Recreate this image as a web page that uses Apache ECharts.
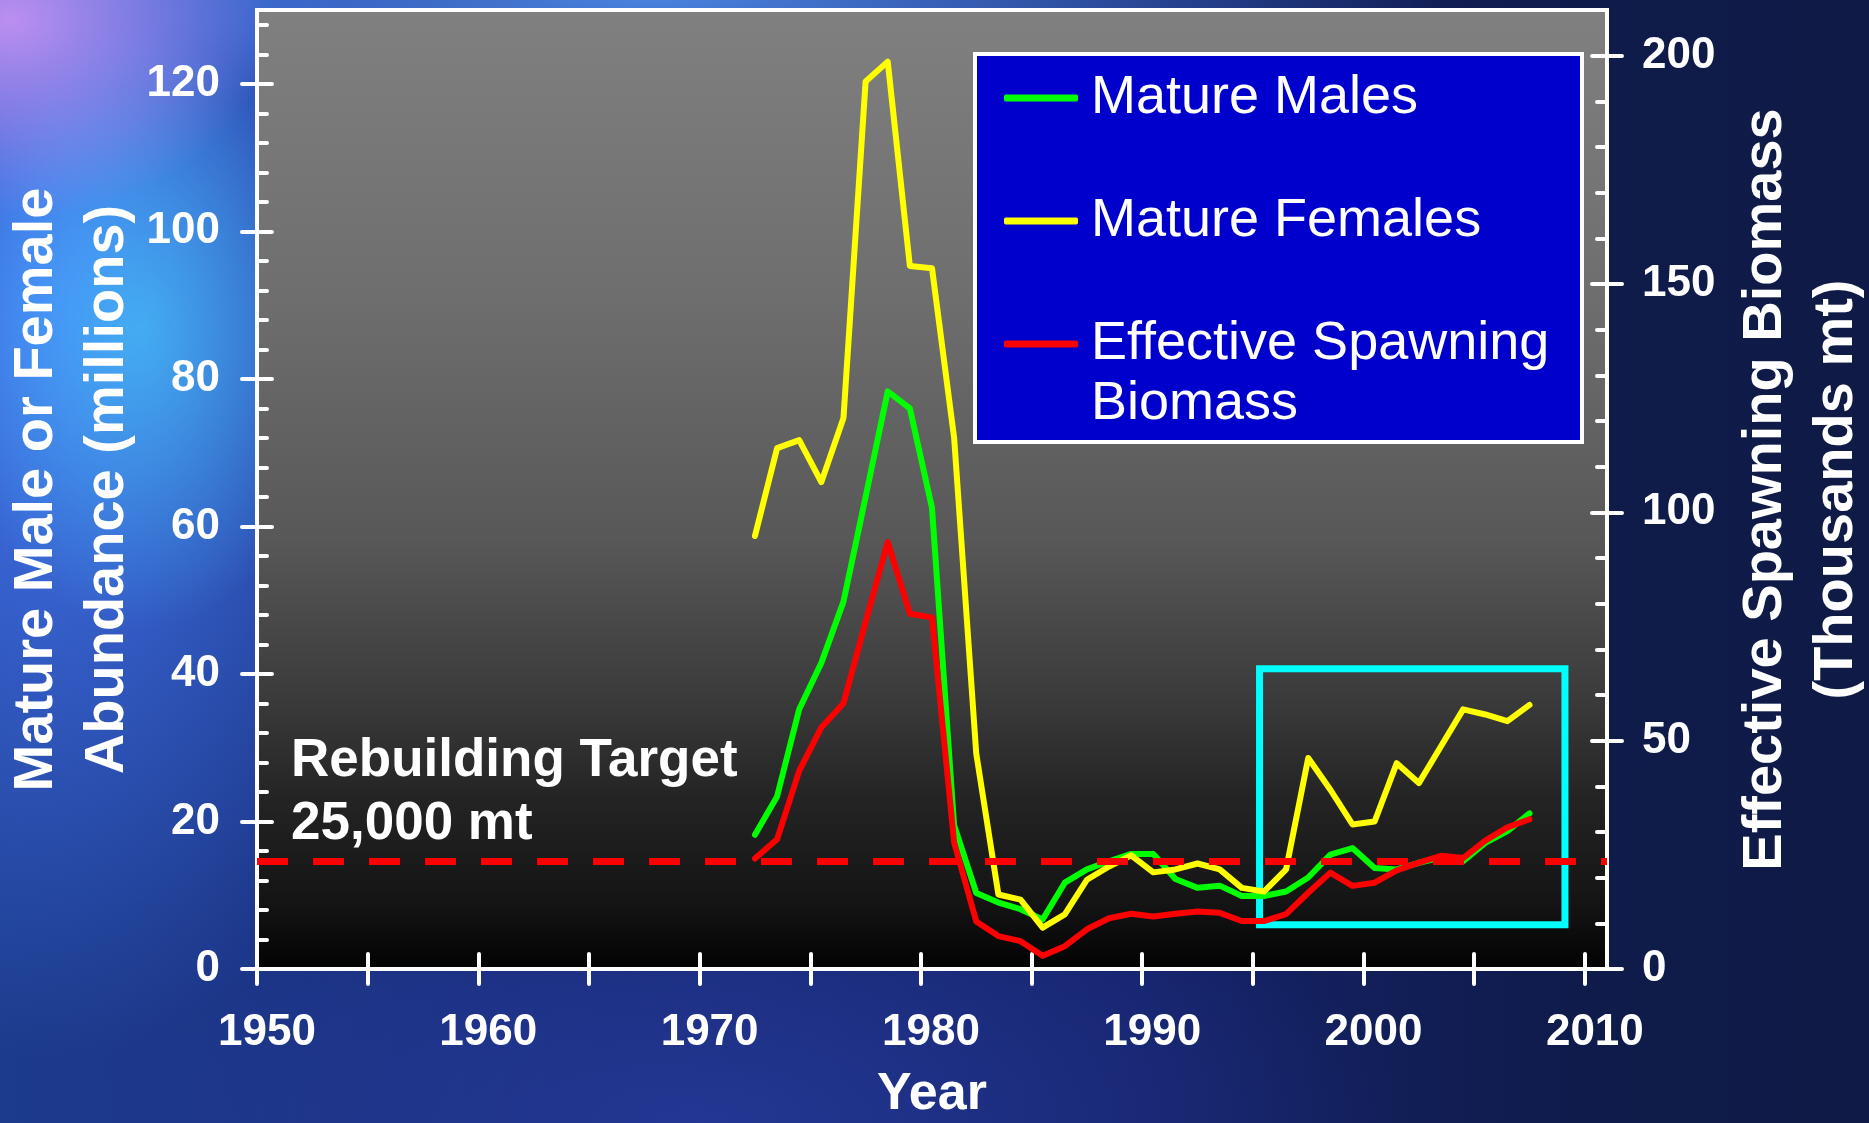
<!DOCTYPE html>
<html>
<head>
<meta charset="utf-8">
<title>Mature abundance and effective spawning biomass</title>
<script src="https://cdn.jsdelivr.net/npm/echarts@6.0.0/dist/echarts.min.js"></script>
<style>
  html, body { margin: 0; padding: 0; }
  body {
    width: 1869px; height: 1123px; overflow: hidden;
    background:
      radial-gradient(ellipse 260px 200px at 10px 20px, rgba(210,150,245,0.85), rgba(210,150,245,0) 100%),
      radial-gradient(ellipse 200px 300px at 140px 330px, rgba(70,200,250,0.7), rgba(70,200,250,0) 100%),
      radial-gradient(ellipse 420px 760px at 60px 300px, rgba(70,120,245,1), rgba(70,120,245,0) 100%),
      radial-gradient(ellipse 800px 120px at 650px 0px, rgba(80,140,235,0.9), rgba(80,140,235,0) 100%),
      radial-gradient(ellipse 700px 300px at 700px 1123px, rgba(40,60,160,0.7), rgba(40,60,160,0) 100%),
      linear-gradient(90deg, #1c3b8c 0%, #182c78 30%, #15236a 60%, #0f1b4a 85%, #0f1a46 100%);
  }
  #chart { width: 1869px; height: 1123px; }
</style>
</head>
<body>
<div id="chart"></div>
<script>
// survey years (points sit at mid-year)
const years = [1972, 1973, 1974, 1975, 1976, 1977, 1978, 1979, 1980, 1981, 1982, 1983,
  1984, 1985, 1986, 1987, 1988, 1989, 1990, 1991, 1992, 1993, 1994, 1995,
  1996, 1997, 1998, 1999, 2000, 2001, 2002, 2003, 2004, 2005, 2006, 2007];
// millions
const matureMales = [18.2, 23.4, 35.2, 41.5, 49.8, 64.0, 78.3, 76.0, 62.5, 19.5, 10.3, 9.0,
  8.1, 6.7, 11.7, 13.5, 14.6, 15.6, 15.6, 12.2, 11.0, 11.3, 9.9, 9.9,
  10.5, 12.4, 15.5, 16.4, 13.7, 13.5, 14.4, 15.1, 14.6, 17.1, 18.7, 21.1];
const matureFemales = [58.7, 70.6, 71.7, 66.0, 74.7, 120.3, 123.0, 95.3, 95.0, 72.0, 29.2, 10.1,
  9.4, 5.6, 7.4, 12.1, 13.9, 15.4, 13.1, 13.5, 14.3, 13.5, 11.0, 10.5,
  13.5, 28.6, 24.3, 19.6, 20.0, 27.9, 25.2, 30.2, 35.2, 34.5, 33.6, 35.8];
// thousands mt
const spawningBiomass = [24.2, 28.4, 43.4, 52.9, 58.2, 76.0, 93.5, 77.8, 77.0, 27.7, 10.4, 7.2,
  6.1, 2.9, 5.0, 8.7, 11.1, 12.1, 11.5, 12.1, 12.6, 12.3, 10.5, 10.5,
  12.0, 16.7, 21.1, 18.2, 18.9, 21.6, 23.3, 24.8, 24.3, 28.1, 31.0, 32.8];

const yearTicks = [1950, 1955, 1960, 1965, 1970, 1975, 1980, 1985, 1990, 1995, 2000, 2005, 2010];
const yearLabels = [1950, 1960, 1970, 1980, 1990, 2000, 2010];
const leftTicks = [0, 20, 40, 60, 80, 100, 120];
const rightTicks = [0, 50, 100, 150, 200];
const rebuildingTarget = 23.5;
const highlightBox = [[1995.3, 40.7], [2009.1, 6.0]];

var leftMinor = [];
for (var v = 4; v < 130; v += 4) { if (v % 20) leftMinor.push(v); }
var rightMinor = [];
for (var w = 10; w <= 200; w += 10) { if (w % 50) rightMinor.push(w); }

var white = '#ffffff';
var font = 'Arial, "Liberation Sans", sans-serif';
var tickLine = { color: white, width: 4, cap: 'round' };

function pairs(vals) {
  return years.map(function (y, i) { return [y + 0.5, vals[i]]; });
}

// extra axes that only draw the inner tick marks
function innerY(pos, max, values, len) {
  return {
    type: 'value', position: pos, min: 0, max: max,
    axisLine: { show: false },
    axisTick: { show: true, inside: true, customValues: values, length: len, lineStyle: tickLine },
    axisLabel: { show: false },
    splitLine: { show: false }
  };
}

var legendText = {
  color: white, fontSize: 54, lineHeight: 60, fontFamily: font,
  rich: { t: { color: white, fontSize: 54, lineHeight: 60, fontFamily: font, padding: [0, 0, 0, 8] } }
};

var myChart = echarts.init(document.getElementById('chart'));
var option = {
  animation: false,
  backgroundColor: 'transparent',
  textStyle: { fontFamily: font },
  grid: {
    left: 257, right: 262, top: 10, bottom: 154,
    outerBoundsMode: 'none',
    show: true,
    borderColor: white,
    borderWidth: 4,
    backgroundColor: new echarts.graphic.LinearGradient(0, 0, 0, 1, [
      { offset: 0, color: '#808080' },
      { offset: 0.3, color: '#6e6e6e' },
      { offset: 0.55, color: '#585858' },
      { offset: 0.72, color: '#3a3a3a' },
      { offset: 0.82, color: '#242424' },
      { offset: 0.93, color: '#141414' },
      { offset: 1, color: '#020202' }
    ])
  },
  xAxis: [
    {
      type: 'value', position: 'bottom', min: 1950, max: 2011,
      name: 'Year', nameLocation: 'middle', nameGap: 100,
      nameTextStyle: { color: white, fontSize: 52, fontWeight: 'bold', fontFamily: font },
      axisLine: { show: true, lineStyle: { color: white, width: 4 } },
      axisTick: { show: true, customValues: yearTicks, length: 15, lineStyle: tickLine },
      axisLabel: {
        customValues: yearLabels, color: white, fontSize: 44, fontWeight: 'bold',
        fontFamily: font, margin: 42, padding: [0, 0, 0, 20],
        formatter: function (val) { return String(val); }
      },
      splitLine: { show: false }
    },
    {
      type: 'value', position: 'bottom', min: 1950, max: 2011,
      axisLine: { show: false },
      axisTick: { show: true, inside: true, customValues: yearTicks, length: 15, lineStyle: tickLine },
      axisLabel: { show: false },
      splitLine: { show: false }
    }
  ],
  yAxis: [
    {
      type: 'value', position: 'left', min: 0, max: 130,
      name: 'Mature Male or Female\nAbundance (millions)',
      nameLocation: 'middle', nameRotate: 90, nameGap: 114, nameMoveOverlap: false,
      nameTextStyle: { color: white, fontSize: 56, fontWeight: 'bold', lineHeight: 71, fontFamily: font },
      axisLine: { show: true, lineStyle: { color: white, width: 4 } },
      axisTick: { show: true, customValues: leftTicks, length: 15, lineStyle: tickLine },
      axisLabel: { customValues: leftTicks, color: white, fontSize: 44, fontWeight: 'bold', fontFamily: font, margin: 37 },
      splitLine: { show: false }
    },
    {
      type: 'value', position: 'right', min: 0, max: 210,
      name: 'Effective Spawning Biomass\n(Thousands mt)',
      nameLocation: 'middle', nameRotate: 90, nameGap: 123, nameMoveOverlap: false,
      nameTextStyle: { color: white, fontSize: 56, fontWeight: 'bold', lineHeight: 71, fontFamily: font },
      axisLine: { show: true, lineStyle: { color: white, width: 4 } },
      axisTick: { show: true, customValues: rightTicks, length: 15, lineStyle: tickLine },
      axisLabel: { customValues: rightTicks, color: white, fontSize: 44, fontWeight: 'bold', fontFamily: font, margin: 35 },
      splitLine: { show: false }
    },
    innerY('left', 130, leftTicks, 15),
    innerY('left', 130, leftMinor, 10),
    innerY('right', 210, rightTicks, 15),
    innerY('right', 210, rightMinor, 10)
  ],
  legend: [
    {
      data: ['Mature Males', 'Mature Females'],
      orient: 'vertical', left: 999, top: 63, itemGap: 63,
      icon: 'roundRect', itemWidth: 74, itemHeight: 7,
      itemStyle: { borderWidth: 0 },
      selectedMode: false, z: 10,
      formatter: function (name) { return '{t|' + name + '}'; },
      textStyle: legendText
    },
    {
      data: ['Effective Spawning Biomass'],
      orient: 'vertical', left: 999, top: 249,
      icon: 'roundRect', itemWidth: 74, itemHeight: 7,
      itemStyle: { borderWidth: 0 },
      selectedMode: false, z: 10,
      // blank first line keeps the icon level with the first text line
      formatter: function () { return '\n{t|Effective Spawning}\n{t|Biomass}'; },
      textStyle: legendText
    }
  ],
  graphic: [
    {
      type: 'rect', z: 5,
      shape: { x: 975, y: 54, width: 607, height: 388 },
      style: { fill: '#0000cc', stroke: white, lineWidth: 4 }
    },
    {
      type: 'text', z: 5, x: 291, y: 730,
      style: {
        text: 'Rebuilding Target\n25,000 mt', fill: white,
        fontSize: 53, fontWeight: 'bold', fontFamily: font, lineHeight: 63
      }
    }
  ],
  series: [
    {
      name: 'Mature Males', type: 'line', yAxisIndex: 0,
      data: pairs(matureMales),
      color: '#00ff00', symbol: 'none',
      lineStyle: { width: 6, cap: 'round', join: 'round' },
      emphasis: { disabled: true },
      markArea: {
        silent: true,
        itemStyle: { color: 'rgba(0,0,0,0)', borderColor: '#00ffff', borderWidth: 7 },
        label: { show: false },
        data: [[{ coord: highlightBox[0] }, { coord: highlightBox[1] }]]
      }
    },
    {
      name: 'Mature Females', type: 'line', yAxisIndex: 0,
      data: pairs(matureFemales),
      color: '#ffff00', symbol: 'none',
      lineStyle: { width: 6, cap: 'round', join: 'round' },
      emphasis: { disabled: true }
    },
    {
      name: 'Effective Spawning Biomass', type: 'line', yAxisIndex: 1,
      data: pairs(spawningBiomass),
      color: '#ff0000', symbol: 'none',
      lineStyle: { width: 6, cap: 'round', join: 'round' },
      emphasis: { disabled: true },
      markLine: {
        silent: true, symbol: 'none',
        label: { show: false },
        emphasis: { disabled: true },
        lineStyle: { color: '#ff0000', width: 7, type: [31, 25] },
        data: [{ yAxis: rebuildingTarget }]
      }
    }
  ]
};
myChart.setOption(option);
</script>
</body>
</html>
